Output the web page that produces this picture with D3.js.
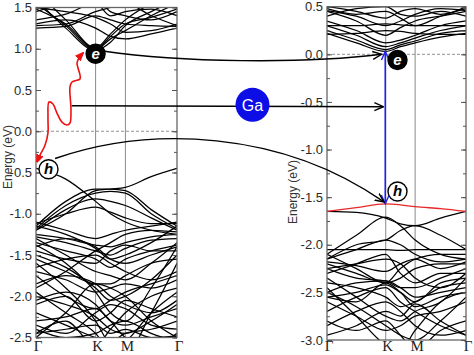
<!DOCTYPE html>
<html>
<head>
<meta charset="utf-8">
<script src="https://cdn.jsdelivr.net/npm/d3@7"></script>
<style>
  body { margin: 0; background: #fff; }
  svg { display: block; font-family: "Liberation Sans", Arial, sans-serif; }
</style>
</head>
<body>
<div id="chart"></div>
<script>
// k-path sample points: Γ, mid Γ-K, K, mid K-M, M, mid M-Γ, Γ
const KPTS = [0, 0.5, 1, 1.25, 1.5, 1.933, 2.366];
const KLABELS = ["Γ", "K", "M", "Γ"];
const KLABEL_POS = [0, 1, 1.5, 2.366];

const leftTicks = d3.range(-2.5, 1.51, 0.5);
const rightTicks = d3.range(-3.0, 0.51, 0.5);

// left panel bands (eV)
const leftCond = [
  [1.60, 1.25, 0.98, 1.08, 1.28, 1.45, 1.60],
  [1.55, 1.28, 0.99, 1.12, 1.22, 1.40, 1.55],
  [1.48, 1.30, 1.00, 1.15, 1.30, 1.38, 1.48],
  [1.70, 1.35, 1.01, 1.18, 1.35, 1.55, 1.70],
  [1.28, 1.30, 1.45, 1.50, 1.55, 1.40, 1.28],
  [1.30, 1.35, 1.25, 1.15, 1.12, 1.18, 1.25],
  [1.50, 1.45, 1.38, 1.30, 1.20, 1.22, 1.30],
  [1.45, 1.55, 1.60, 1.45, 1.40, 1.35, 1.45],
  [1.35, 1.42, 1.55, 1.40, 1.45, 1.48, 1.40],
  [1.25, 1.27, 1.40, 1.35, 1.30, 1.28, 1.27]
];
const leftVal = [
  [-0.45, -0.58, -0.85, -1.00, -1.10, -1.20, -1.25],
  [-1.20, -1.00, -0.72, -0.70, -0.68, -0.55, -0.45],
  [-1.15, -0.85, -0.70, -0.70, -0.72, -0.95, -1.15],
  [-1.18, -0.90, -0.75, -0.73, -0.75, -1.00, -1.18],
  [-1.20, -0.95, -0.82, -0.85, -0.90, -1.05, -1.20],
  [-1.12, -1.00, -0.92, -0.98, -1.05, -1.12, -1.12],
  [-1.25, -1.30, -1.38, -1.40, -1.35, -1.28, -1.25],
  [-1.28, -1.35, -1.45, -1.50, -1.42, -1.32, -1.30],
  [-1.40, -1.30, -1.40, -1.55, -1.60, -1.50, -1.40],
  [-1.45, -1.55, -1.60, -1.45, -1.38, -1.45, -1.45],
  [-1.55, -1.70, -1.85, -1.85, -1.75, -1.60, -1.55],
  [-1.65, -1.55, -1.50, -1.60, -1.70, -1.80, -1.70],
  [-1.75, -2.00, -2.15, -2.05, -1.95, -1.85, -1.75],
  [-1.85, -1.75, -1.85, -2.00, -2.10, -2.20, -2.05],
  [-2.00, -2.10, -2.25, -2.40, -2.45, -2.30, -2.10],
  [-2.10, -2.00, -2.30, -2.20, -2.05, -2.15, -2.25],
  [-2.20, -2.35, -2.50, -2.55, -2.45, -2.40, -2.30],
  [-2.30, -2.25, -2.15, -2.30, -2.50, -2.60, -2.45],
  [-2.40, -2.50, -2.45, -2.35, -2.30, -2.45, -2.55],
  [-1.95, -2.20, -2.45, -2.65, -2.55, -2.20, -1.95],
  [-1.60, -1.90, -2.30, -2.60, -2.70, -2.20, -1.60],
  [-2.50, -2.20, -1.85, -1.90, -2.00, -2.30, -2.50],
  [-2.45, -2.30, -2.60, -2.40, -2.20, -2.00, -1.90],
  [-1.30, -1.50, -1.70, -1.75, -1.80, -1.60, -1.35],
  [-1.35, -1.45, -1.55, -1.65, -1.55, -1.45, -1.38],
  [-1.90, -1.70, -1.45, -1.35, -1.25, -1.20, -1.22],
  [-1.10, -1.20, -1.30, -1.25, -1.20, -1.15, -1.10],
  [-1.15, -1.25, -1.42, -1.55, -1.50, -1.35, -1.15],
  [-1.50, -1.65, -1.90, -2.05, -2.00, -1.80, -1.50],
  [-1.70, -1.80, -1.95, -1.90, -1.85, -1.90, -1.80],
  [-2.05, -1.95, -2.10, -2.30, -2.35, -2.25, -2.15],
  [-2.35, -2.45, -2.20, -2.10, -2.15, -2.35, -2.40],
  [-2.45, -2.40, -2.35, -2.45, -2.40, -2.50, -2.48],
  [-1.38, -1.60, -1.95, -2.20, -2.30, -1.90, -1.40]
];

// right panel bands (eV)
const rightCond = [
  [0.22, 0.12, 0.03, 0.08, 0.12, 0.18, 0.22],
  [0.25, 0.15, 0.05, 0.10, 0.14, 0.22, 0.25],
  [0.30, 0.20, 0.08, 0.12, 0.17, 0.25, 0.30],
  [0.35, 0.25, 0.12, 0.15, 0.20, 0.30, 0.35],
  [0.30, 0.30, 0.32, 0.31, 0.30, 0.30, 0.30],
  [0.21, 0.22, 0.25, 0.24, 0.22, 0.21, 0.21],
  [0.45, 0.35, 0.20, 0.28, 0.35, 0.40, 0.45],
  [0.48, 0.42, 0.45, 0.38, 0.30, 0.40, 0.48],
  [0.50, 0.45, 0.38, 0.45, 0.48, 0.42, 0.50],
  [0.40, 0.48, 0.50, 0.42, 0.40, 0.45, 0.40],
  [0.46, 0.40, 0.30, 0.35, 0.42, 0.48, 0.46]
];
const rightRed = [-1.65, -1.61, -1.57, -1.58, -1.60, -1.62, -1.65];
const rightVal = [
  [-2.10, -1.90, -1.71, -1.80, -1.95, -2.10, -2.15],
  [-1.65, -1.66, -1.72, -1.78, -1.80, -1.72, -1.65],
  [-2.15, -2.00, -1.95, -1.85, -1.80, -1.90, -2.05],
  [-2.05, -2.05, -2.05, -2.06, -2.05, -2.05, -2.05],
  [-2.15, -2.05, -1.95, -2.00, -2.10, -2.18, -2.15],
  [-2.20, -2.30, -2.40, -2.35, -2.25, -2.20, -2.20],
  [-2.25, -2.35, -2.38, -2.45, -2.45, -2.35, -2.25],
  [-2.30, -2.20, -2.10, -2.30, -2.40, -2.30, -2.30],
  [-2.50, -2.40, -2.38, -2.45, -2.55, -2.50, -2.45],
  [-2.55, -2.60, -2.40, -2.50, -2.65, -2.55, -2.50],
  [-2.35, -2.55, -2.75, -2.80, -2.70, -2.60, -2.35],
  [-2.60, -2.75, -2.90, -2.85, -2.75, -2.70, -2.60],
  [-2.70, -2.55, -2.45, -2.60, -2.70, -2.85, -2.95],
  [-2.80, -2.90, -2.80, -2.95, -3.10, -2.90, -2.80],
  [-2.45, -2.75, -3.05, -3.10, -2.90, -2.60, -2.50],
  [-2.95, -2.85, -2.70, -2.75, -2.62, -2.80, -2.95],
  [-2.10, -2.25, -2.40, -2.25, -2.15, -2.10, -2.10],
  [-2.55, -2.50, -2.42, -2.50, -2.60, -2.40, -2.35],
  [-2.18, -2.22, -2.28, -2.20, -2.15, -2.25, -2.18],
  [-2.40, -2.45, -2.55, -2.65, -2.60, -2.45, -2.40],
  [-2.85, -2.70, -2.60, -2.70, -2.85, -2.95, -2.90],
  [-2.50, -2.65, -2.85, -2.95, -3.00, -2.80, -2.55],
  [-2.25, -2.20, -2.15, -2.20, -2.35, -2.45, -2.30]
];

// red squiggle (left panel, k / eV)
const redK = [0.017, 0.067, 0.151, 0.201, 0.201, 0.218, 0.285, 0.352, 0.436, 0.52, 0.57, 0.587, 0.57, 0.604, 0.738, 0.738, 0.705, 0.688, 0.721, 0.789];
const redE = [-0.37, -0.29, -0.17, -0.02, 0.17, 0.354, 0.33, 0.22, 0.11, 0.076, 0.10, 0.26, 0.536, 0.597, 0.633, 0.682, 0.767, 0.827, 0.888, 0.948];

const W = 474, H = 355;
const svg = d3.select("#chart").append("svg").attr("width", W).attr("height", H);
const defs = svg.append("defs");

function marker(id, color, filled) {
  defs.append("marker")
    .attr("id", id)
    .attr("viewBox", "0 -5 10 10")
    .attr("refX", 9)
    .attr("refY", 0)
    .attr("markerWidth", filled ? 8 : 10)
    .attr("markerHeight", filled ? 8 : 10)
    .attr("markerUnits", "userSpaceOnUse")
    .attr("orient", "auto-start-reverse")
    .append("path")
    .attr("d", filled ? "M0,-4L10,0L0,4Z" : "M0,-4L9,0L0,4")
    .attr("fill", filled ? color : "none")
    .attr("stroke", color)
    .attr("stroke-width", 1.4);
}
marker("arrBlack", "#000", false);
marker("arrRed", "#ee1111", true);
marker("arrBlue", "#2222ee", false);

const xL = d3.scaleLinear().domain([0, 2.366]).range([36, 177]);
const yL = d3.scaleLinear().domain([-2.5, 1.5]).range([337.5, 7.5]);
const xR = d3.scaleLinear().domain([0, 2.366]).range([327, 466]);
const yR = d3.scaleLinear().domain([-3.0, 0.5]).range([340, 6.7]);

const fmt = d => d.toFixed(1);

function panel(id, x, y, ticks, bands, extra) {
  let g = svg.append("g");
  let [x0, x1] = x.range();
  let [y1, y0] = y.range();

  defs.append("clipPath").attr("id", id)
    .append("rect")
    .attr("x", x0).attr("y", y0)
    .attr("width", x1 - x0).attr("height", y1 - y0);

  // K and M verticals
  g.selectAll(".kline")
    .data(KLABEL_POS.slice(1, 3))
    .join("line")
    .attr("x1", d => x(d)).attr("x2", d => x(d))
    .attr("y1", y0).attr("y2", y1)
    .attr("stroke", "#8a8a8a")
    .attr("stroke-width", 1);

  // zero line
  g.append("line")
    .attr("x1", x0).attr("x2", x1)
    .attr("y1", y(0)).attr("y2", y(0))
    .attr("stroke", "#777")
    .attr("stroke-dasharray", "3,2")
    .attr("stroke-width", 0.8);

  let line = d3.line()
    .x((d, i) => x(KPTS[i]))
    .y(d => y(d))
    .curve(d3.curveMonotoneX);

  let bg = g.append("g").attr("clip-path", `url(#${id})`);
  bg.selectAll(".band")
    .data(bands)
    .join("path")
    .attr("d", line)
    .attr("fill", "none")
    .attr("stroke", "#000")
    .attr("stroke-width", 1.25);

  if (extra) {
    bg.append("path")
      .datum(extra)
      .attr("d", line)
      .attr("fill", "none")
      .attr("stroke", "#e82828")
      .attr("stroke-width", 1.3);
  }

  // frame
  g.append("rect")
    .attr("x", x0).attr("y", y0)
    .attr("width", x1 - x0).attr("height", y1 - y0)
    .attr("fill", "none")
    .attr("stroke", "#666")
    .attr("stroke-width", 1.3);

  // major + minor ticks, inward on both sides
  let minor = d3.range(y.domain()[0], y.domain()[1] + 0.01, 0.25);
  let left = g.append("g")
    .attr("transform", `translate(${x0},0)`)
    .call(d3.axisLeft(y).tickValues(ticks).tickSizeInner(-5).tickSizeOuter(0).tickPadding(4).tickFormat(fmt));
  left.append("g").call(d3.axisLeft(y).tickValues(minor).tickSizeInner(-3).tickSizeOuter(0).tickFormat(""));
  let right = g.append("g")
    .attr("transform", `translate(${x1},0)`)
    .call(d3.axisRight(y).tickValues(ticks).tickSizeInner(-5).tickSizeOuter(0).tickFormat(""));
  right.append("g").call(d3.axisRight(y).tickValues(minor).tickSizeInner(-3).tickSizeOuter(0).tickFormat(""));
  g.selectAll(".domain").remove();
  g.selectAll(".tick line").attr("stroke", "#555");
  left.selectAll("text")
    .style("font-size", "13px")
    .style("font-family", "'Liberation Sans', Arial, sans-serif")
    .attr("fill", "#2a2a2a");

  // k labels
  g.selectAll(".klabel")
    .data(KLABEL_POS)
    .join("text")
    .attr("x", d => x(d) + 2)
    .attr("y", 351)
    .attr("text-anchor", "middle")
    .style("font-family", "'Liberation Serif', 'Times New Roman', serif")
    .style("font-size", "15px")
    .attr("fill", "#222")
    .text((d, i) => KLABELS[i]);

  return g;
}

panel("clipL", xL, yL, leftTicks, leftCond.concat(leftVal), null);
panel("clipR", xR, yR, rightTicks, rightCond.concat(rightVal), rightRed);

// axis titles
svg.append("text")
  .attr("transform", "translate(12,157) rotate(-90)")
  .attr("text-anchor", "middle")
  .style("font-size", "12px")
  .attr("fill", "#333")
  .text("Energy (eV)");
svg.append("text")
  .attr("transform", "translate(297,192) rotate(-90)")
  .attr("text-anchor", "middle")
  .style("font-size", "12px")
  .attr("fill", "#333")
  .text("Energy (eV)");

// red squiggle, h -> e in the left panel
svg.append("path")
  .datum(redK.map((k, i) => [xL(k), yL(redE[i])]))
  .attr("d", d3.line().curve(d3.curveCatmullRom.alpha(0.5)))
  .attr("fill", "none")
  .attr("stroke", "#ee1111")
  .attr("stroke-width", 1.6)
  .attr("marker-start", "url(#arrRed)")
  .attr("marker-end", "url(#arrRed)");

// blue double arrow at K of the right panel
svg.append("line")
  .attr("x1", xR(1) - 0.5).attr("x2", xR(1) - 0.5)
  .attr("y1", yR(-1.57)).attr("y2", yR(0.03))
  .attr("stroke", "#2222ee")
  .attr("stroke-width", 1.6)
  .attr("marker-start", "url(#arrBlue)")
  .attr("marker-end", "url(#arrBlue)");

// black arrows between panels
function curveArrow(p0, p1, c0, c1) {
  let p = d3.path();
  p.moveTo(p0[0], p0[1]);
  p.bezierCurveTo(c0[0], c0[1], c1[0], c1[1], p1[0], p1[1]);
  svg.append("path")
    .attr("d", p.toString())
    .attr("fill", "none")
    .attr("stroke", "#000")
    .attr("stroke-width", 1.4)
    .attr("marker-end", "url(#arrBlack)");
}

// e -> e
let eA = [xL(1.15), yL(0.97)], eB = [xR(0.93), yR(0.0)];
curveArrow(eA, eB, [eA[0] + 75, eA[1] + 11], [eB[0] - 80, eB[1] + 10]);
// h -> h
let hA = [xL(0.32), yL(-0.33)], hB = [xR(0.97), yR(-1.55)];
curveArrow(hA, hB, [hA[0] + 95, hA[1] - 33], [hB[0] - 103, hB[1] - 72]);
// Ga level
svg.append("line")
  .attr("x1", xL(0.6)).attr("y1", yL(0.31))
  .attr("x2", xR(0.96)).attr("y2", yR(-0.55))
  .attr("stroke", "#000")
  .attr("stroke-width", 1.4)
  .attr("marker-end", "url(#arrBlack)");

// Ga badge
let ga = svg.append("g").attr("transform", `translate(${(xL.range()[1] + xR.range()[0]) / 2 + 0.5},${yL(0.32)})`);
ga.append("circle").attr("r", 17).attr("fill", "#0d0de6");
ga.append("text")
  .attr("text-anchor", "middle")
  .attr("dy", "0.36em")
  .style("font-size", "16px")
  .attr("fill", "#fff")
  .text("Ga");

// e / h badges
function badge(cx, cy, label, dark) {
  let b = svg.append("g").attr("transform", `translate(${cx},${cy})`);
  b.append("circle")
    .attr("r", 9.5)
    .attr("fill", dark ? "#000" : "#fff")
    .attr("stroke", "#000")
    .attr("stroke-width", 1.4);
  b.append("text")
    .attr("text-anchor", "middle")
    .attr("dy", "0.33em")
    .style("font-size", "15px")
    .style("font-weight", "bold")
    .style("font-style", "italic")
    .attr("fill", dark ? "#fff" : "#000")
    .text(label);
}
badge(xL(1.0), yL(0.94), "e", true);
badge(xL(0.21), yL(-0.46), "h", false);
badge(xR(1.2), yR(-0.06), "e", true);
badge(xR(1.2), yR(-1.44), "h", false);
</script>
</body>
</html>
